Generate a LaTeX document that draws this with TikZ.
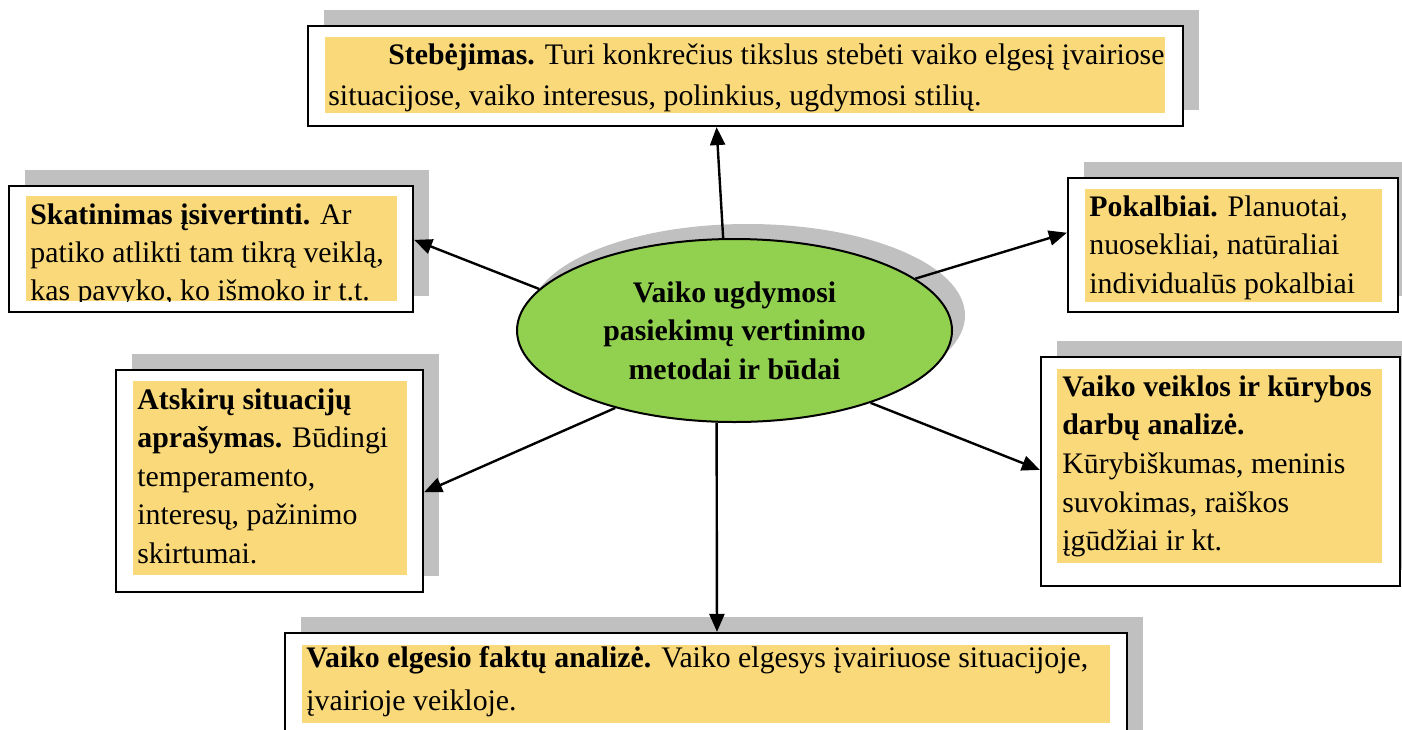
\documentclass[tikz,border=0pt]{standalone}
\usepackage{fontspec}
\setmainfont{Liberation Serif}
\usetikzlibrary{arrows.meta,shapes.geometric,shadows,calc}
\definecolor{boxyellow}{HTML}{FAD97A}
\definecolor{shgray}{HTML}{C0C0C0}
\definecolor{ovalgreen}{HTML}{92D050}
\begin{document}
\begin{tikzpicture}[x=0.5pt,y=-0.5pt,
  framebox/.style={rectangle, draw=black, line width=1.1pt, fill=white, inner sep=0pt,
    general shadow={shadow xshift=8pt, shadow yshift=8pt, fill=shgray}},
  txt/.style={inner sep=0pt, anchor=base west, font=\fontsize{14.9}{19.25}\selectfont},
  arr/.style={line width=1.2pt, -{Triangle[length=9pt,width=7.5pt]}},
  yel/.style={fill=boxyellow}
]
\useasboundingbox (0,0) rectangle (1402,729);
\clip (0,0) rectangle (1402,729);

% frames
\node[framebox, minimum width=437.5pt, minimum height=50pt] (top) at (745.5,76) {};
\node[framebox, minimum width=202pt, minimum height=63pt] (sk) at (211,249) {};
\node[framebox, minimum width=165pt, minimum height=67pt] (po) at (1233,245) {};
\node[framebox, minimum width=153.5pt, minimum height=111pt] (at) at (269.5,481) {};
\node[framebox, minimum width=179.5pt, minimum height=114.5pt] (vk) at (1220.5,471.5) {};
\node[framebox, minimum width=421pt, minimum height=63.5pt] (bo) at (706,696.5) {};

% yellow text areas
\fill[yel] (325,37) rectangle (1165,113);
\fill[yel] (26,196) rectangle (397,301);
\fill[yel] (1085,189) rectangle (1382,302);
\fill[yel] (133,381) rectangle (407,575);
\fill[yel] (1057,369) rectangle (1382,563);
\fill[yel] (302,645) rectangle (1110,723);

% texts
\node[txt] (topt) at (328,64) {\vtop{\baselineskip=20.5pt
  \hbox{\hspace*{30pt}\textbf{Stebėjimas.} Turi konkrečius tikslus stebėti vaiko elgesį įvairiose}
  \hbox{situacijose, vaiko interesus, polinkius, ugdymosi stilių.}}};
\begin{scope}
\clip (26,196) rectangle (397,301);
\node[txt] (skt) at (30,224) {\vtop{\baselineskip=19pt
  \hbox{\textbf{Skatinimas įsivertinti.} Ar}
  \hbox{patiko atlikti tam tikrą veiklą,}
  \hbox{kas pavyko, ko išmoko ir t.t.}}};
\end{scope}
\node[txt] (pot) at (1089,216) {\vtop{\baselineskip=19.25pt
  \hbox{\textbf{Pokalbiai.} Planuotai,}
  \hbox{nuosekliai, natūraliai}
  \hbox{individualūs pokalbiai}}};
\node[txt] (att) at (137,409) {\vtop{\baselineskip=19.25pt
  \hbox{\textbf{Atskirų situacijų}}
  \hbox{\textbf{aprašymas.} Būdingi}
  \hbox{temperamento,}
  \hbox{interesų, pažinimo}
  \hbox{skirtumai.}}};
\node[txt] (vkt) at (1062,396) {\vtop{\baselineskip=19.35pt
  \hbox{\textbf{Vaiko veiklos ir kūrybos}}
  \hbox{\textbf{darbų analizė.}}
  \hbox{Kūrybiškumas, meninis}
  \hbox{suvokimas, raiškos}
  \hbox{įgūdžiai ir kt.}}};
\node[txt] (bot) at (306,667) {\vtop{\baselineskip=21.5pt
  \hbox{\textbf{Vaiko elgesio faktų analizė.} Vaiko elgesys įvairiuose situacijoje,}
  \hbox{įvairioje veikloje.}}};

% central ellipse
\node[ellipse, draw=black, line width=1pt, fill=ovalgreen, inner sep=0pt,
  minimum width=217.5pt, minimum height=91.5pt,
  general shadow={shadow xshift=6.5pt, shadow yshift=7.5pt, fill=shgray},
  font=\bfseries\fontsize{14.9}{19.25}\selectfont, align=center] (c) at (734.5,330.5)
  {Vaiko ugdymosi\\pasiekimų vertinimo\\metodai ir būdai};

% connectors
\draw[arr] (c.97.8) -- ($(top.south west)!0.467!(top.south east)$);
\draw[arr] (c.168.9) -- ($(sk.north east)!0.429!(sk.south east)$);
\draw[arr] (c.16.2) -- ($(po.north west)!0.41!(po.south west)$);
\draw[arr] (c.213.6) -- ($(at.north east)!0.55!(at.south east)$);
\draw[arr] (c.332) -- ($(vk.north west)!0.493!(vk.south west)$);
\draw[arr] (c.259.2) -- ($(bo.north west)!0.513!(bo.north east)$);
\end{tikzpicture}
\end{document}
